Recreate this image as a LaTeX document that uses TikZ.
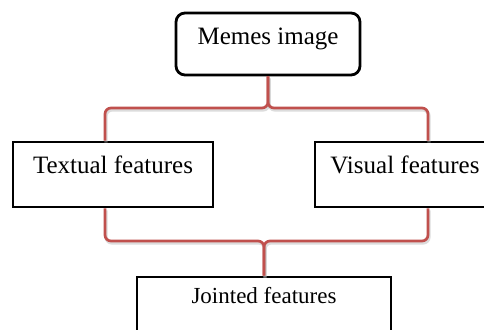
\documentclass[tikz,border=0pt]{standalone}
\usepackage{fontspec}
\setmainfont{Liberation Serif}
\definecolor{bracered}{RGB}{192,80,77}
\begin{document}
\begin{tikzpicture}[x=1pt,y=-1pt,
  featbox/.style={draw=black, line width=2.8pt, fill=white, inner sep=0pt,
    font=\fontsize{25}{25}\selectfont, anchor=base},
  brace/.style={draw=bracered, line width=2.7pt, rounded corners=6pt,
    preaction={draw=black!30, opacity=0.45, line width=3.2pt,
      transform canvas={shift={(1pt,-2pt)}}}}]
\useasboundingbox (0,0) rectangle (484,329);
\clip (0,0) rectangle (484,329);
\fill[white] (0,0) rectangle (484,329);
\node[featbox, rounded corners=9pt, minimum width=184pt,
  text height=32pt, text depth=30pt] (memes) at (268,45) {Memes image};
\node[featbox, minimum width=200pt,
  text height=31pt, text depth=34pt] (tex) at (113,173) {Textual features};
\node[featbox, minimum width=180pt,
  text height=31pt, text depth=34pt] (vis) at (405,173) {Visual features};
\node[featbox, minimum width=254pt, font=\fontsize{23}{23}\selectfont,
  text height=26pt, text depth=37pt] (joint) at (264,303) {Jointed features};
\coordinate (L) at (105,0);
\coordinate (R) at (428,0);
\coordinate (H1) at (0,108);
\coordinate (H2) at (0,241);
\path[brace] (tex.north -| L) |- (memes.south |- H1) -- (memes.south);
\path[brace] (vis.north -| R) |- (memes.south |- H1) -- (memes.south);
\path[brace] (tex.south -| L) |- (joint.north |- H2) -- (joint.north);
\path[brace] (vis.south -| R) |- (joint.north |- H2) -- (joint.north);
\end{tikzpicture}
\end{document}
